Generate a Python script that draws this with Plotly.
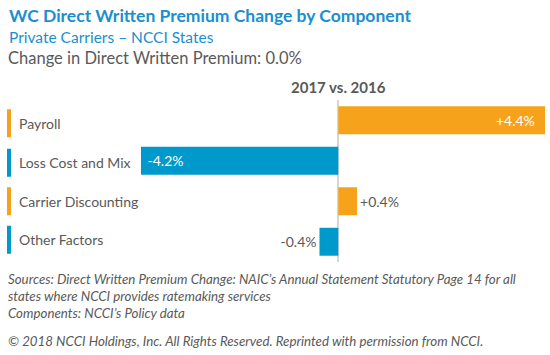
import plotly.graph_objects as go

categories = ["Payroll", "Loss Cost and Mix", "Carrier Discounting", "Other Factors"]
values = [4.4, -4.2, 0.4, -0.4]
labels = ["+4.4%", "-4.2%", "+0.4%", "-0.4%"]
bar_colors = ["#F7A21B", "#0099CC", "#F7A21B", "#0099CC"]
text_positions = ["inside", "inside", "outside", "outside"]
text_templates = ["%{text}\u00a0\u00a0", "\u00a0%{text}", "%{text}", "%{text}"]
label_shift_px = [-3, -2, 0, 2]

FONT = "Lato"
GRAY = "#595959"
BLUE_T = "#1A8FCF"

W, H = 550, 355
ML, MR, MT, MB = 0, 5, 100, 93
PW, PH = W - ML - MR, H - MT - MB


def px(x):
    return (x - ML) / PW


def py(y):
    return (H - MB - y) / PH


fig = go.Figure()
fig.add_trace(go.Bar(
    x=values, y=categories, orientation="h",
    marker=dict(color=bar_colors, line=dict(width=0)),
    text=labels, texttemplate=text_templates, textposition=text_positions,
    insidetextanchor="end",
    insidetextfont=dict(color="white", size=14, family=FONT),
    outsidetextfont=dict(color=GRAY, size=14, family=FONT),
    textangle=0, cliponaxis=False, hoverinfo="skip",
))

fig.update_layout(
    width=W, height=H,
    margin=dict(l=ML, r=MR, t=MT, b=MB),
    paper_bgcolor="white", plot_bgcolor="white",
    showlegend=False, bargap=0.31,
    font=dict(family=FONT, color=GRAY),
    xaxis=dict(range=[-7.2, 4.4], showgrid=False, showticklabels=False,
               zeroline=True, zerolinecolor="#D6D6D6", zerolinewidth=1.5,
               fixedrange=True),
    yaxis=dict(autorange="reversed", showticklabels=False, showgrid=False,
               zeroline=False, fixedrange=True),
)

# category labels and colored markers
for i, (cat, col, sh) in enumerate(zip(categories, bar_colors, label_shift_px)):
    fig.add_annotation(x=px(17), xref="paper", y=cat, yref="y", yshift=sh,
                       text=cat, showarrow=False, xanchor="left",
                       font=dict(size=14, color=GRAY, family=FONT))
    fig.add_shape(type="rect", xref="paper", yref="y",
                  ysizemode="pixel", yanchor=i,
                  x0=px(7), x1=px(11),
                  y0=sh - 14, y1=sh + 14,
                  fillcolor=col, line=dict(width=0))

texts = [
    dict(x=7, y=3, text="<b>WC Direct Written Premium Change by Component</b>", size=17.5, color=BLUE_T),
    dict(x=7, y=26, text="Private Carriers – NCCI States", size=15.5, color=BLUE_T),
    dict(x=6, y=46, text="Change in Direct Written Premium: 0.0%", size=16.5, color=GRAY),
    dict(x=289, y=76, text="<b>2017 vs. 2016</b>", size=15, color=GRAY),
    dict(x=6, y=269, text="<i>Sources: Direct Written Premium Change: NAIC’s Annual Statement Statutory Page 14 for all</i>", size=13.3, color=GRAY),
    dict(x=6, y=286, text="<i>states where NCCI provides ratemaking services</i>", size=13.3, color=GRAY),
    dict(x=6, y=303, text="<i>Components: NCCI’s Policy data</i>", size=13.3, color=GRAY),
    dict(x=6, y=331, text="<i>© 2018 NCCI Holdings, Inc. All Rights Reserved. Reprinted with permission from NCCI.</i>", size=13.3, color=GRAY),
]
for t in texts:
    fig.add_annotation(x=px(t["x"]), y=py(t["y"]), xref="paper", yref="paper",
                       yanchor="top", xanchor="left", showarrow=False,
                       text=t["text"], font=dict(size=t["size"], color=t["color"], family=FONT))

fig.write_html("out.html", config={"displayModeBar": False},
               post_script="document.body.style.margin='0';")
